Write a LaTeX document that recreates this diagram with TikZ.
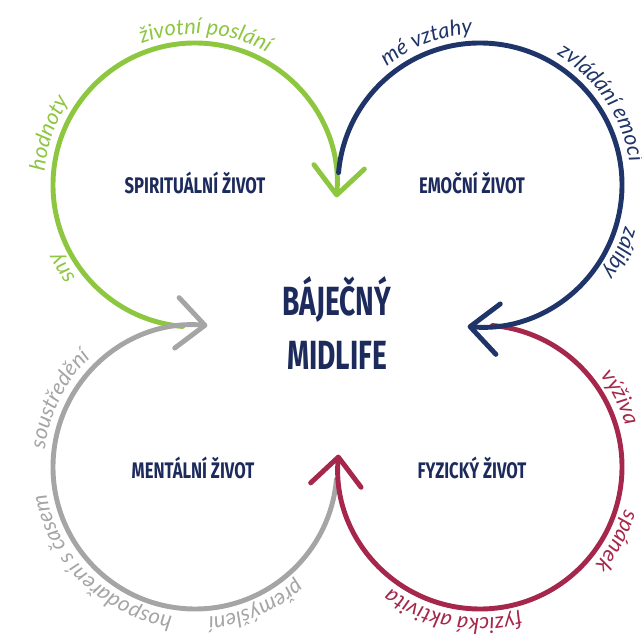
\documentclass[tikz,border=0pt]{standalone}
\usepackage{fontspec}
\usetikzlibrary{arrows.meta,decorations.text}

\newfontfamily\titlefont[FakeStretch=0.74]{Fira Sans}
\newfontfamily\mainfont[FakeStretch=0.69]{Fira Sans}
\newfontfamily\handfont{Lato}

\definecolor{zelena}{RGB}{141,198,63}
\definecolor{modra}{RGB}{31,52,104}
\definecolor{vinova}{RGB}{165,40,76}
\definecolor{seda}{RGB}{165,165,165}
\definecolor{nadpis}{RGB}{28,42,92}

\tikzset{
  kruh/.style={line width=3.5pt, line cap=round,
    -{Straight Barb[length=20pt,width=36pt,round]}},
  nazev/.style={text=nadpis, font=\titlefont\bfseries\fontsize{16}{18}\selectfont},
  hlavni/.style={text=nadpis, font=\mainfont\bfseries\fontsize{29}{32}\selectfont, align=center}
}

% popisek podél oblouku: střed, úhel, barva, text
\newcommand{\popisek}[4]{%
  \path[decorate, decoration={text along path, text align=center, text color=#3,
      text={|\handfont\itshape\fontsize{15.5}{17}\selectfont|#4}}]
    ([shift={(#2+60:\rt)}]#1) arc[start angle=#2+60, end angle=#2-60, radius=\rt];}

\begin{document}
\begin{tikzpicture}[x=0.025cm, y=0.025cm]
    \def\r{142}
    \def\rt{151}
    \useasboundingbox (0,0) rectangle (641,643);

    % středy kruhů
    \coordinate (S) at (195,458);
    \coordinate (E) at (480,458);
    \coordinate (F) at (480,176);
    \coordinate (M) at (195,176);

    % oblouky se šipkami
    \draw[kruh, zelena] ([shift={(265:\r)}]S) arc[start angle=265, end angle=-5, radius=\r];
    \draw[kruh, seda] ([shift={(-5:\r)}]M) arc[start angle=-5, end angle=-275, radius=\r];
    \draw[kruh, vinova] ([shift={(85:\r)}]F) arc[start angle=85, end angle=-185, radius=\r];
    \draw[kruh, modra] ([shift={(175:\r)}]E) arc[start angle=175, end angle=-95, radius=\r];

    % názvy
    \node[nazev] (spirit) at (195,460) {SPIRITUÁLNÍ ŽIVOT};
    \node[nazev] (emoc) at (472,460) {EMOČNÍ ŽIVOT};
    \node[nazev] (mental) at (193,175) {MENTÁLNÍ ŽIVOT};
    \node[nazev] (fyz) at (472,175) {FYZICKÝ ŽIVOT};
    \node[hlavni] (stred) at (337,320) {BÁJEČNÝ\\[6pt]MIDLIFE};

    % popisky
    \popisek{S}{86}{zelena}{životní poslání}
    \popisek{S}{160.5}{zelena}{hodnoty}
    \popisek{S}{212}{zelena}{sny}
    \popisek{E}{110.5}{modra}{mé vztahy}
    \popisek{E}{34}{modra}{zvládání emocí}
    \popisek{E}{-26}{modra}{záliby}
    \popisek{F}{26.5}{vinova}{výživa}
    \popisek{F}{-28.5}{vinova}{spánek}
    \popisek{F}{-100.5}{vinova}{fyzická aktivita}
    \popisek{M}{153.5}{seda}{soustředění}
    \popisek{M}{225.75}{seda}{hospodaření s časem}
    \popisek{M}{-66.5}{seda}{přemýšlení}

\end{tikzpicture}
\end{document}
